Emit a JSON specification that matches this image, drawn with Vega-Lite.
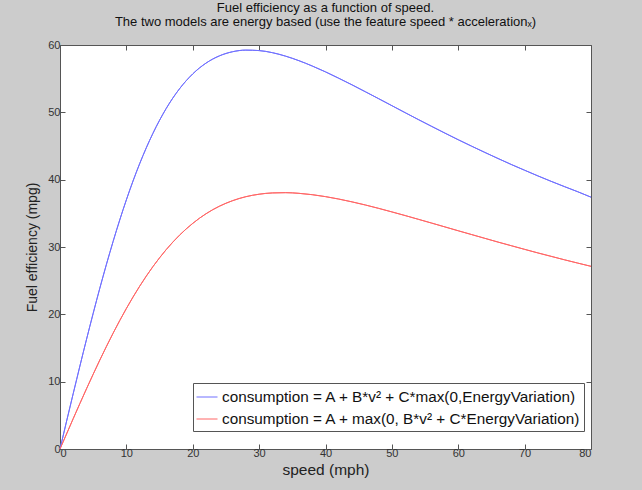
{
  "$schema": "https://vega.github.io/schema/vega-lite/v6.json",
  "width": 531,
  "height": 404,
  "autosize": {"type": "none"},
  "padding": {"left": 60, "top": 45, "right": 51, "bottom": 41},
  "background": "#cccccc",
  "config": {
    "view": {"fill": "white", "stroke": "#555555", "strokeWidth": 1},
    "font": "Liberation Sans",
    "axis": {"grid": false, "domain": false, "tickSize": -5, "tickColor": "#555555", "labelColor": "#333333", "labelFontSize": 11, "titleFontSize": 14, "titleFontWeight": "normal", "titleColor": "#222222", "labelFont": "Liberation Sans", "titleFont": "Liberation Sans"}
  },
  "title": {
    "text": ["Fuel efficiency as a function of speed.", "The two models are energy based (use the feature speed * accelerationₓ)"],
    "fontSize": 13,
    "fontWeight": "normal",
    "font": "Liberation Sans",
    "color": "#111111",
    "lineHeight": 14,
    "offset": 10,
    "anchor": "middle"
  },
  "datasets": {
    "curves": [
      {"speed": 0, "mpg": 0, "model": "b"},
      {"speed": 2, "mpg": 8.27, "model": "b"},
      {"speed": 4, "mpg": 16.30, "model": "b"},
      {"speed": 6, "mpg": 23.88, "model": "b"},
      {"speed": 8, "mpg": 30.82, "model": "b"},
      {"speed": 10, "mpg": 37.01, "model": "b"},
      {"speed": 12, "mpg": 42.37, "model": "b"},
      {"speed": 14, "mpg": 46.88, "model": "b"},
      {"speed": 16, "mpg": 50.57, "model": "b"},
      {"speed": 18, "mpg": 53.49, "model": "b"},
      {"speed": 20, "mpg": 55.71, "model": "b"},
      {"speed": 22, "mpg": 57.31, "model": "b"},
      {"speed": 24, "mpg": 58.38, "model": "b"},
      {"speed": 26, "mpg": 59.00, "model": "b"},
      {"speed": 28, "mpg": 59.24, "model": "b"},
      {"speed": 30, "mpg": 59.17, "model": "b"},
      {"speed": 32, "mpg": 58.86, "model": "b"},
      {"speed": 34, "mpg": 58.34, "model": "b"},
      {"speed": 36, "mpg": 57.67, "model": "b"},
      {"speed": 38, "mpg": 56.88, "model": "b"},
      {"speed": 40, "mpg": 56.01, "model": "b"},
      {"speed": 42, "mpg": 55.06, "model": "b"},
      {"speed": 44, "mpg": 54.08, "model": "b"},
      {"speed": 46, "mpg": 53.06, "model": "b"},
      {"speed": 48, "mpg": 52.03, "model": "b"},
      {"speed": 50, "mpg": 50.99, "model": "b"},
      {"speed": 52, "mpg": 49.95, "model": "b"},
      {"speed": 54, "mpg": 48.92, "model": "b"},
      {"speed": 56, "mpg": 47.91, "model": "b"},
      {"speed": 58, "mpg": 46.91, "model": "b"},
      {"speed": 60, "mpg": 45.93, "model": "b"},
      {"speed": 62, "mpg": 44.98, "model": "b"},
      {"speed": 64, "mpg": 44.05, "model": "b"},
      {"speed": 66, "mpg": 43.14, "model": "b"},
      {"speed": 68, "mpg": 42.25, "model": "b"},
      {"speed": 70, "mpg": 41.40, "model": "b"},
      {"speed": 72, "mpg": 40.56, "model": "b"},
      {"speed": 74, "mpg": 39.75, "model": "b"},
      {"speed": 76, "mpg": 38.97, "model": "b"},
      {"speed": 78, "mpg": 38.21, "model": "b"},
      {"speed": 80, "mpg": 37.40, "model": "b"},
      {"speed": 0, "mpg": 0, "model": "r"},
      {"speed": 2, "mpg": 4.53, "model": "r"},
      {"speed": 4, "mpg": 8.96, "model": "r"},
      {"speed": 6, "mpg": 13.21, "model": "r"},
      {"speed": 8, "mpg": 17.20, "model": "r"},
      {"speed": 10, "mpg": 20.87, "model": "r"},
      {"speed": 12, "mpg": 24.17, "model": "r"},
      {"speed": 14, "mpg": 27.09, "model": "r"},
      {"speed": 16, "mpg": 29.61, "model": "r"},
      {"speed": 18, "mpg": 31.75, "model": "r"},
      {"speed": 20, "mpg": 33.51, "model": "r"},
      {"speed": 22, "mpg": 34.94, "model": "r"},
      {"speed": 24, "mpg": 36.05, "model": "r"},
      {"speed": 26, "mpg": 36.88, "model": "r"},
      {"speed": 28, "mpg": 37.47, "model": "r"},
      {"speed": 30, "mpg": 37.84, "model": "r"},
      {"speed": 32, "mpg": 38.03, "model": "r"},
      {"speed": 34, "mpg": 38.07, "model": "r"},
      {"speed": 36, "mpg": 37.97, "model": "r"},
      {"speed": 38, "mpg": 37.77, "model": "r"},
      {"speed": 40, "mpg": 37.48, "model": "r"},
      {"speed": 42, "mpg": 37.12, "model": "r"},
      {"speed": 44, "mpg": 36.70, "model": "r"},
      {"speed": 46, "mpg": 36.24, "model": "r"},
      {"speed": 48, "mpg": 35.74, "model": "r"},
      {"speed": 50, "mpg": 35.21, "model": "r"},
      {"speed": 52, "mpg": 34.67, "model": "r"},
      {"speed": 54, "mpg": 34.11, "model": "r"},
      {"speed": 56, "mpg": 33.55, "model": "r"},
      {"speed": 58, "mpg": 32.98, "model": "r"},
      {"speed": 60, "mpg": 32.41, "model": "r"},
      {"speed": 62, "mpg": 31.85, "model": "r"},
      {"speed": 64, "mpg": 31.29, "model": "r"},
      {"speed": 66, "mpg": 30.73, "model": "r"},
      {"speed": 68, "mpg": 30.19, "model": "r"},
      {"speed": 70, "mpg": 29.65, "model": "r"},
      {"speed": 72, "mpg": 29.12, "model": "r"},
      {"speed": 74, "mpg": 28.61, "model": "r"},
      {"speed": 76, "mpg": 28.10, "model": "r"},
      {"speed": 78, "mpg": 27.61, "model": "r"},
      {"speed": 80, "mpg": 27.13, "model": "r"}
    ]
  },
  "data": {"name": "curves"},
  "layer": [
    {
      "mark": {"type": "line", "strokeWidth": 1, "interpolate": "monotone"},
      "encoding": {
        "x": {"field": "speed", "type": "quantitative", "scale": {"domain": [0, 80], "nice": false}, "axis": {"orient": "bottom", "title": "speed (mph)", "titleFontSize": 15.5, "values": [0, 10, 20, 30, 40, 50, 60, 70, 80], "labelPadding": 3, "titlePadding": 4}},
        "y": {"field": "mpg", "type": "quantitative", "scale": {"domain": [0, 60], "nice": false, "zero": true}, "axis": {"orient": "left", "title": "Fuel efficiency (mpg)", "values": [0, 10, 20, 30, 40, 50, 60], "labelPadding": 5, "titlePadding": 8}},
        "color": {
          "field": "model", "type": "nominal",
          "scale": {"domain": ["b", "r"], "range": ["#7070ff", "#ff6666"]},
          "legend": {
            "title": null, "orient": "none", "legendX": 133, "legendY": 338, "direction": "vertical",
            "fillColor": "white", "strokeColor": "#555555", "padding": 3,
            "symbolType": "stroke", "symbolSize": 441, "symbolStrokeWidth": 1,
            "labelFontSize": 15.3, "labelColor": "#111111", "labelLimit": 600, "labelFont": "Liberation Sans", "rowPadding": 2,
            "labelExpr": "datum.value == 'b' ? 'consumption = A + B*v² + C*max(0,EnergyVariation)' : 'consumption = A + max(0, B*v² + C*EnergyVariation)'"
          }
        }
      }
    },
    {
      "mark": {"type": "line", "strokeWidth": 1, "interpolate": "monotone"},
      "encoding": {
        "x": {"field": "speed", "type": "quantitative", "axis": {"orient": "top", "title": null, "labels": false, "values": [0, 10, 20, 30, 40, 50, 60, 70, 80]}},
        "y": {"field": "mpg", "type": "quantitative", "axis": {"orient": "right", "title": null, "labels": false, "values": [0, 10, 20, 30, 40, 50, 60]}},
        "color": {"field": "model", "type": "nominal"}
      }
    }
  ],
  "resolve": {"axis": {"x": "independent", "y": "independent"}}
}
